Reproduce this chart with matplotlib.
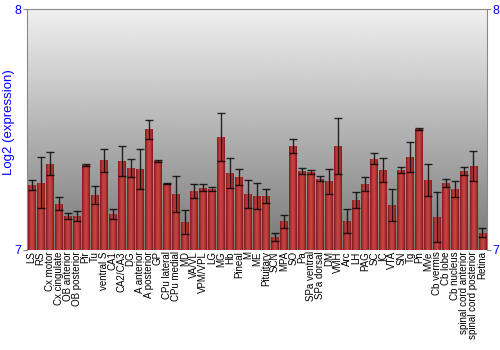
import numpy as np
import matplotlib
matplotlib.use('Agg')
import matplotlib.pyplot as plt
from matplotlib.colors import LinearSegmentedColormap

# regions and expression values (log2)
regions = ['LS', 'RS', 'Cx motor', 'Cx cingulate', 'OB anterior', 'OB posterior', 'Pir', 'Tu',
           'ventral S', 'CA1', 'CA2/CA3', 'DG', 'A anterior', 'A posterior', 'GP', 'CPu lateral',
           'CPu medial', 'MD', 'VA/VL', 'VPM/VPL', 'LG', 'MG', 'Hb', 'Pineal', 'M', 'ME',
           'Pituitary', 'SCN', 'MPA', 'SO', 'Pa', 'SPa ventral', 'SPa dorsal', 'DM', 'VMH', 'Arc',
           'LH', 'PAG', 'SC', 'IC', 'VTA', 'SN', 'Tg', 'Pn', 'MVe', 'Cb vermis', 'Cb lobe',
           'Cb nucleus', 'spinal cord anterior', 'spinal cord posterior', 'Retina']
values = [7.27, 7.278, 7.357, 7.192, 7.141, 7.141, 7.353, 7.228,
          7.373, 7.148, 7.369, 7.339, 7.336, 7.501, 7.369, 7.274,
          7.231, 7.115, 7.245, 7.259, 7.253, 7.468, 7.319, 7.304, 7.234, 7.224,
          7.224, 7.054, 7.118, 7.432, 7.328, 7.324, 7.295, 7.285, 7.433, 7.120,
          7.206, 7.274, 7.379, 7.332, 7.187, 7.333, 7.386, 7.502, 7.290, 7.136, 7.278,
          7.253, 7.328, 7.347, 7.071]
errors = [0.020, 0.106, 0.048, 0.028, 0.014, 0.019, 0.004, 0.039,
          0.048, 0.021, 0.061, 0.037, 0.085, 0.039, 0.004, 0.002,
          0.074, 0.049, 0.030, 0.015, 0.010, 0.100, 0.064, 0.033, 0.058, 0.053,
          0.030, 0.017, 0.027, 0.030, 0.011, 0.008, 0.010, 0.051, 0.116, 0.050,
          0.033, 0.029, 0.024, 0.049, 0.066, 0.013, 0.061, 0.006, 0.068, 0.104, 0.018,
          0.033, 0.018, 0.062, 0.019]

fig = plt.figure(figsize=(5, 3.5), dpi=100)
ax = fig.add_axes([0.054, 0.286, 0.92, 0.688])

x = np.arange(len(regions))
ax.set_xlim(-0.5, len(regions) - 0.5)
ax.set_ylim(7, 8)

# gray gradient background
bg = np.linspace(0.47, 0.94, 256).reshape(-1, 1)
ax.imshow(bg, cmap='gray', vmin=0, vmax=1, aspect='auto', origin='lower',
          extent=[-0.5, len(regions) - 0.5, 7, 8], zorder=0)

bars = ax.bar(x, np.array(values) - 7, bottom=7, width=0.88, color='#b83030', zorder=2)

# horizontal shading on every bar
row = np.abs(np.linspace(-1, 1, 64))
shade = np.vstack([1 - 0.55 * row ** 1.5])
redmap = LinearSegmentedColormap.from_list('r', ['#801818', '#c84444'])
for b in bars:
    x0, y0 = b.get_x(), b.get_y()
    im = ax.imshow(shade, cmap=redmap, vmin=0.45, vmax=1, aspect='auto',
                   extent=[x0, x0 + b.get_width(), y0, y0 + b.get_height()], zorder=3)
    im.set_clip_path(b)

ax.errorbar(x, values, yerr=errors, fmt='none', ecolor='black', elinewidth=1,
            capsize=3, capthick=1, alpha=0.8, zorder=4)

ax.set_xticks(x)
ax.set_xticklabels(regions, rotation=90, fontsize=7, family='Liberation Sans')
ax.tick_params(axis='x', length=0, pad=1)

ax.set_yticks([7, 8])
ax.tick_params(axis='y', colors='#888888', labelcolor='blue', labelsize=9, length=3,
               right=True, labelright=True, direction='out', pad=1)
for lab in ax.get_yticklabels():
    lab.set_family('Liberation Sans')
ax.set_ylabel('Log2 (expression)', color='blue', fontsize=9.5, family='Liberation Sans')
ax.yaxis.set_label_coords(-0.027, 0.53)

for s in ['left', 'right', 'top']:
    ax.spines[s].set_color('#888888')
ax.spines['bottom'].set_visible(False)

fig.savefig('out.png', dpi=100)
